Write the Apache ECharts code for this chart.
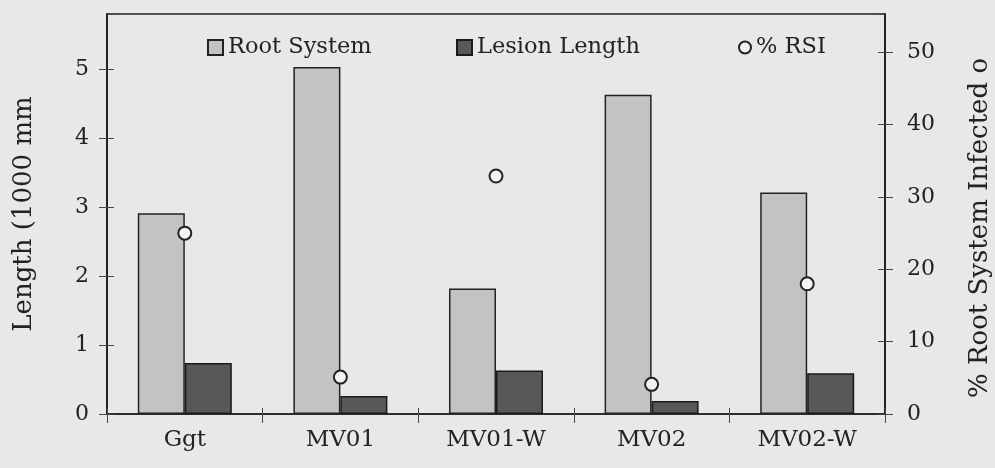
<!DOCTYPE html>
<html>
<head>
<meta charset="utf-8">
<script src="https://cdn.jsdelivr.net/npm/echarts@6/dist/echarts.min.js"></script>
<style>
html,body{margin:0;padding:0;background:#e8e8e8;}
#c{width:995px;height:468px;}
</style>
</head>
<body>
<div id="c"></div>
<script>
var categories = ['Ggt', 'MV01', 'MV01-W', 'MV02', 'MV02-W'];
var rootSystem = [2.91, 5.03, 1.82, 4.63, 3.21];
var lesionLength = [0.74, 0.26, 0.63, 0.19, 0.59];
var rsi = [25.0, 5.1, 32.9, 4.1, 18.0];
var leftTicks = [0, 1, 2, 3, 4, 5];
var rightTicks = [0, 10, 20, 30, 40, 50];

var font = '"DejaVu Serif", "Liberation Serif", serif';
var ink = '#222';

var chart = echarts.init(document.getElementById('c'));
var yBase = function (pos, max, interval, withLabels, tickInside, name) {
  return {
    type: 'value', position: pos, min: 0, max: max, interval: interval,
    name: withLabels ? name : '',
    nameLocation: 'middle',
    nameRotate: 90,
    nameGap: pos === 'left' ? 70 : 82,
    nameTextStyle: { fontFamily: font, fontSize: 26, color: ink, padding: pos === 'left' ? 0 : [0, 28, 0, 0] },
    axisLine: { show: true, lineStyle: { color: ink, width: 1.5 } },
    axisTick: { show: true, inside: tickInside, length: tickInside ? 7 : 8, lineStyle: { color: '#444', width: 1 } },
    axisLabel: { show: withLabels, showMaxLabel: false, fontFamily: font, fontSize: 22, color: ink, margin: pos === 'left' ? 18 : 22 },
    splitLine: { show: false }
  };
};
var legendText = { fontFamily: font, fontSize: 22.5, color: ink };
chart.setOption({
  backgroundColor: '#e8e8e8',
  animation: false,
  grid: { left: 107, right: 110, top: 14, bottom: 54, containLabel: false, outerBoundsMode: 'none',
    show: true, borderColor: ink, borderWidth: 1.5, backgroundColor: 'transparent' },
  legend: [
    { data: [{ name: 'Root System', icon: 'rect' }], left: 202, top: 31, itemWidth: 15, itemHeight: 15, itemGap: 6, textStyle: legendText },
    { data: [{ name: 'Lesion Length', icon: 'rect' }], left: 451, top: 31, itemWidth: 15, itemHeight: 15, itemGap: 6, textStyle: legendText },
    { data: [{ name: '% RSI', icon: 'circle' }], left: 733, top: 31, itemWidth: 12, itemHeight: 12, itemGap: 8, textStyle: legendText }
  ],
  xAxis: [{
    type: 'category', data: categories,
    axisLine: { lineStyle: { color: ink, width: 1.5 } },
    axisTick: { show: true, length: 9, lineStyle: { color: '#444' } },
    axisLabel: { fontFamily: font, fontSize: 23, color: ink, margin: 15 }
  }, {
    type: 'category', data: categories, position: 'bottom',
    axisLine: { show: false },
    axisTick: { show: true, inside: true, length: 6, lineStyle: { color: '#444' } },
    axisLabel: { show: false }
  }],
  yAxis: [
    yBase('left', 5.8, 1, true, false, 'Length (1000 mm'),
    yBase('right', 55.3, 10, true, false, '% Root System Infected o'),
    yBase('left', 5.8, 1, false, true, ''),
    yBase('right', 55.3, 10, false, true, '')
  ],
  series: [
    { name: 'Root System', type: 'bar', data: rootSystem, barWidth: 47, barGap: '0%', yAxisIndex: 0,
      itemStyle: { color: '#c3c3c3', borderColor: '#222', borderWidth: 1.5 } },
    { name: 'Lesion Length', type: 'bar', data: lesionLength, barWidth: 47, barGap: '0%', yAxisIndex: 0,
      itemStyle: { color: '#585858', borderColor: '#1a1a1a', borderWidth: 1.5 } },
    { name: '% RSI', type: 'scatter', data: rsi, yAxisIndex: 1, symbol: 'circle', symbolSize: 13, z: 5,
      itemStyle: { color: '#f2f2f2', borderColor: '#222', borderWidth: 2, opacity: 1 } }
  ]
});
</script>
</body>
</html>
